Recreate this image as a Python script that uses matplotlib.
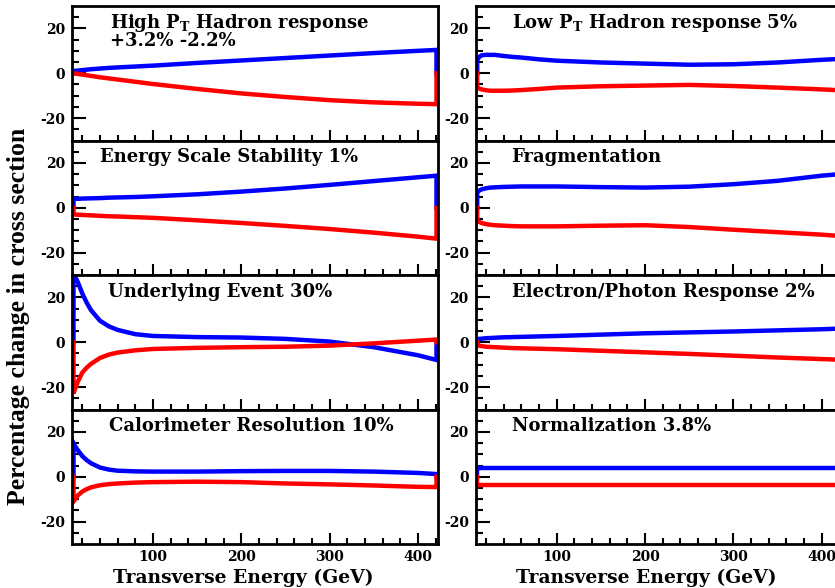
import matplotlib
matplotlib.use("Agg")
import matplotlib.pyplot as plt
import numpy as np

plt.rcParams['font.family'] = ['DejaVu Serif']
plt.rcParams['font.weight'] = 'bold'
plt.rcParams['mathtext.fontset'] = 'custom'
plt.rcParams['mathtext.rm'] = 'DejaVu Serif:bold'
plt.rcParams['mathtext.it'] = 'DejaVu Serif:bold'
plt.rcParams['mathtext.bf'] = 'DejaVu Serif:bold'

# ---- data ----
energy = [10, 12, 15, 20, 25, 30, 40, 50, 60, 80, 100, 150, 200, 250, 300, 350, 400, 421]

titles = [
    ["High P$_{\\rm T}$ Hadron response", "+3.2% -2.2%"],
    ["Low P$_{\\rm T}$ Hadron response 5%"],
    ["Energy Scale Stability 1%"],
    ["Fragmentation"],
    ["Underlying Event 30%"],
    ["Electron/Photon Response 2%"],
    ["Calorimeter Resolution 10%"],
    ["Normalization 3.8%"],
]

highpt_up = [1.0, 1.1, 1.2, 1.4, 1.6, 1.8, 2.1, 2.4, 2.6, 3.0, 3.4, 4.6, 5.7, 6.8, 7.9, 9.0, 10.0, 10.4]
highpt_dn = [0.0, -0.1, -0.3, -0.6, -0.9, -1.2, -1.8, -2.3, -2.8, -3.8, -4.8, -7.0, -9.0, -10.6, -12.0, -13.0, -13.6, -13.8]

lowpt_up = [5.8, 7.2, 8.0, 8.2, 8.2, 8.2, 7.7, 7.3, 7.0, 6.2, 5.6, 4.8, 4.3, 3.8, 4.0, 4.8, 6.0, 6.4]
lowpt_dn = [-6.0, -6.8, -7.2, -7.6, -7.8, -7.8, -7.8, -7.7, -7.5, -7.0, -6.4, -5.8, -5.5, -5.2, -5.7, -6.4, -7.2, -7.6]

escale_up = [4.0, 4.0, 4.0, 4.1, 4.15, 4.2, 4.3, 4.5, 4.6, 4.8, 5.1, 6.0, 7.2, 8.6, 10.2, 11.9, 13.6, 14.3]
escale_dn = [-3.0, -3.05, -3.1, -3.2, -3.3, -3.4, -3.6, -3.8, -3.9, -4.2, -4.5, -5.6, -6.8, -8.1, -9.5, -11.1, -12.9, -13.8]

frag_up = [6.8, 7.6, 8.2, 8.7, 9.0, 9.1, 9.3, 9.4, 9.5, 9.5, 9.5, 9.2, 9.0, 9.4, 10.5, 12.0, 14.3, 15.0]
frag_dn = [-5.7, -6.3, -6.8, -7.3, -7.6, -7.8, -8.0, -8.2, -8.3, -8.3, -8.3, -8.0, -7.8, -8.6, -9.8, -10.9, -12.0, -12.6]

ue_up = [29.8, 29.2, 26.7, 21.7, 17.6, 14.2, 9.6, 7.1, 5.5, 3.6, 2.8, 2.3, 2.1, 1.5, 0.3, -2.2, -5.8, -7.9]
ue_dn = [-22.8, -20.5, -17.5, -13.5, -11.3, -9.6, -7.0, -5.5, -4.6, -3.6, -3.0, -2.5, -2.2, -2.0, -1.5, -0.5, 0.7, 1.2]

egamma_up = [1.3, 1.5, 1.6, 1.8, 1.9, 2.0, 2.2, 2.3, 2.4, 2.6, 2.8, 3.4, 4.0, 4.4, 4.8, 5.3, 5.8, 6.1]
egamma_dn = [-1.2, -1.5, -1.7, -2.0, -2.1, -2.2, -2.4, -2.6, -2.7, -2.9, -3.1, -3.8, -4.5, -5.2, -6.0, -6.8, -7.5, -7.8]

calres_up = [15.0, 13.5, 11.8, 9.2, 7.4, 6.0, 4.1, 3.2, 2.7, 2.4, 2.3, 2.3, 2.5, 2.6, 2.6, 2.3, 1.7, 1.2]
calres_dn = [-11.0, -10.0, -8.3, -6.6, -5.5, -4.7, -3.8, -3.3, -3.0, -2.6, -2.4, -2.2, -2.4, -3.0, -3.4, -3.9, -4.5, -4.6]

norm_up = [3.8] * len(energy)
norm_dn = [-3.8] * len(energy)

panels = [
    (highpt_up, highpt_dn), (lowpt_up, lowpt_dn),
    (escale_up, escale_dn), (frag_up, frag_dn),
    (ue_up, ue_dn), (egamma_up, egamma_dn),
    (calres_up, calres_dn), (norm_up, norm_dn),
]
title_x = [0.104, 0.098, 0.0765, 0.098, 0.099, 0.098, 0.101, 0.098]

xticks = [100, 200, 300, 400]
yticks = [-20, 0, 20]
ytick_labels = ['-20', '0', '20']

# ---- layout ----
W, H = 835, 588
fig = plt.figure(figsize=(W / 100, H / 100), dpi=100)
left_px = [72, 475.7]
ax_w = 366
top_px, bot_px = 6, 544
row_h = (bot_px - top_px) / 4

for i, ((up, dn), title) in enumerate(zip(panels, titles)):
    r, c = divmod(i, 2)
    x0 = left_px[c] / W
    y0 = 1 - (top_px + (r + 1) * row_h) / H
    ax = fig.add_axes([x0, y0, ax_w / W, row_h / H])
    xs = [energy[0]] + energy + [energy[-1]]
    ax.plot(xs, [0] + list(up) + [0], color='#0000ff', lw=3.2, solid_joinstyle='miter')
    ax.plot(xs, [0] + list(dn) + [0], color='#ff0000', lw=3.2, solid_joinstyle='miter')
    ax.set_xlim(8.3, 422.7)
    ax.set_ylim(-30, 30)
    ax.set_xticks(xticks)
    ax.set_xticks(np.arange(20, 421, 20), minor=True)
    ax.set_yticks(yticks)
    ax.set_yticks(np.arange(-25, 30, 5), minor=True)
    ax.set_yticklabels(ytick_labels)
    ax.tick_params(axis='both', which='both', direction='in', top=False, right=False,
                   width=1.5, labelsize=10)
    ax.tick_params(axis='x', which='major', length=8)
    ax.tick_params(axis='x', which='minor', length=4)
    ax.tick_params(axis='y', which='major', length=10)
    ax.tick_params(axis='y', which='minor', length=5)
    ax.tick_params(axis='y', pad=5)
    ax.tick_params(axis='x', pad=4)
    if r < 3:
        ax.set_xticklabels([])
    for sp in ax.spines.values():
        sp.set_linewidth(2.0)
    for k, line in enumerate(title):
        ax.text(title_x[i], 0.838 - 0.138 * k, line, transform=ax.transAxes, fontsize=13,
                fontweight='bold', ha='left', va='baseline')

fig.text(243 / W, 1 - 578 / H, "Transverse Energy (GeV)", fontsize=13.5,
         fontweight='bold', ha='center', va='center')
fig.text(646 / W, 1 - 578 / H, "Transverse Energy (GeV)", fontsize=13.5,
         fontweight='bold', ha='center', va='center')
fig.text(19 / W, 1 - 316 / H, "Percentage change in cross section", fontsize=18.5,
         fontweight='bold', ha='center', va='center', rotation=90,
         family=['Liberation Serif', 'DejaVu Serif'])

fig.savefig("out.png", dpi=100)
